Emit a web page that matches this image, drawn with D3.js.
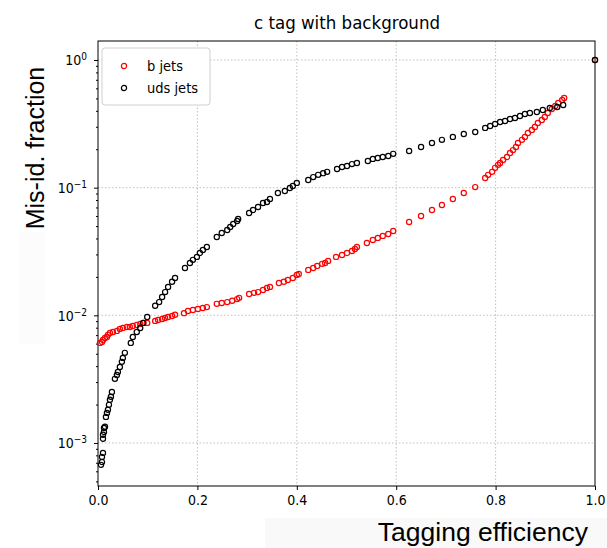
<!DOCTYPE html>
<html>
<head>
<meta charset="utf-8">
<script src="https://cdn.jsdelivr.net/npm/d3@7"></script>
<style>
  body { margin: 0; background: #fff; }
  .tick text { font-family: "DejaVu Sans Condensed", "DejaVu Sans", sans-serif; font-size: 14px; fill: #000; }
  .grid line { stroke: #b0b0b0; stroke-dasharray: 1.5,2; stroke-width: 0.8; }
</style>
</head>
<body>
<div id="chart"></div>
<script>
// efficiency / mis-id fraction
const bEff = [0.004,0.008,0.010,0.014,0.018,0.020,0.024,0.030,0.038,0.044,0.050,0.058,0.064,0.070,0.078,0.085,0.091,0.099,
  0.115,0.121,0.129,0.135,0.141,0.149,0.155,0.173,0.181,0.191,0.201,0.211,0.219,0.239,0.249,0.260,0.270,0.280,0.284,
  0.304,0.314,0.322,0.332,0.340,0.346,0.364,0.374,0.382,0.392,0.400,0.404,0.423,0.433,0.441,0.451,0.457,0.463,
  0.479,0.491,0.501,0.511,0.517,0.521,0.541,0.553,0.563,0.573,0.584,0.594,0.626,0.650,0.672,0.692,0.714,0.736,0.759,
  0.779,0.785,0.793,0.799,0.805,0.809,0.815,0.823,0.829,0.835,0.841,0.845,0.853,0.859,0.865,0.873,0.879,0.885,0.893,
  0.899,0.905,0.913,0.920,0.926,0.934,0.938,1.0];
const bMisId = [6.08e-3,6.19e-3,6.42e-3,6.65e-3,6.77e-3,7.03e-3,7.28e-3,7.41e-3,7.55e-3,7.83e-3,7.97e-3,8.11e-3,8.11e-3,8.26e-3,8.41e-3,8.57e-3,8.72e-3,8.72e-3,
  9.04e-3,9.20e-3,9.37e-3,9.54e-3,9.71e-3,9.89e-3,1.01e-2,1.04e-2,1.08e-2,1.10e-2,1.12e-2,1.14e-2,1.16e-2,1.23e-2,1.25e-2,1.27e-2,1.30e-2,1.34e-2,1.37e-2,
  1.47e-2,1.50e-2,1.52e-2,1.58e-2,1.64e-2,1.67e-2,1.79e-2,1.83e-2,1.89e-2,1.96e-2,2.07e-2,2.11e-2,2.27e-2,2.35e-2,2.44e-2,2.53e-2,2.57e-2,2.67e-2,
  2.87e-2,2.97e-2,3.08e-2,3.19e-2,3.31e-2,3.43e-2,3.69e-2,3.89e-2,4.04e-2,4.19e-2,4.34e-2,4.58e-2,5.38e-2,6.00e-2,6.69e-2,7.32e-2,8.16e-2,9.08e-2,0.101,
  0.119,0.126,0.133,0.143,0.151,0.156,0.165,0.174,0.187,0.197,0.208,0.224,0.237,0.250,0.268,0.283,0.299,0.321,0.339,
  0.358,0.385,0.413,0.436,0.461,0.486,0.504,1.0];

const udsEff = [0.006,0.008,0.008,0.010,0.010,0.010,0.012,0.012,0.014,0.016,0.018,0.020,0.022,0.024,0.026,0.028,
  0.034,0.038,0.040,0.044,0.048,0.050,0.054,0.066,0.070,0.078,0.085,0.091,0.099,0.115,0.123,0.129,0.135,0.141,0.149,0.155,
  0.175,0.185,0.191,0.199,0.205,0.211,0.219,0.239,0.249,0.260,0.266,0.272,0.280,0.282,0.304,0.312,0.322,0.332,0.340,0.346,
  0.362,0.376,0.386,0.392,0.400,0.423,0.433,0.443,0.453,0.461,0.481,0.491,0.501,0.511,0.521,0.543,0.553,0.563,0.573,0.584,0.594,
  0.626,0.650,0.672,0.692,0.714,0.736,0.759,0.779,0.789,0.799,0.809,0.819,0.829,0.839,0.849,0.859,0.869,0.883,0.895,0.909,0.924,0.936,1.0];
const udsMisId = [6.74e-4,7.11e-4,7.78e-4,8.36e-4,1.08e-3,1.16e-3,1.22e-3,1.31e-3,1.34e-3,1.60e-3,1.72e-3,1.82e-3,1.99e-3,2.18e-3,2.30e-3,2.51e-3,
  3.18e-3,3.41e-3,3.60e-3,3.94e-3,4.32e-3,4.64e-3,5.08e-3,6.08e-3,6.77e-3,7.41e-3,7.96e-3,8.72e-3,9.71e-3,1.19e-2,1.27e-2,1.39e-2,1.52e-2,1.67e-2,1.83e-2,1.96e-2,
  2.35e-2,2.57e-2,2.72e-2,2.87e-2,3.08e-2,3.25e-2,3.43e-2,4.11e-2,4.42e-2,4.66e-2,4.92e-2,5.20e-2,5.48e-2,5.69e-2,6.34e-2,6.69e-2,7.06e-2,7.59e-2,7.73e-2,8.16e-2,
  9.08e-2,9.42e-2,9.95e-2,0.103,0.109,0.115,0.121,0.126,0.130,0.133,0.140,0.145,0.148,0.153,0.156,0.162,0.168,0.171,0.174,0.177,0.184,
  0.194,0.208,0.224,0.237,0.250,0.263,0.273,0.294,0.304,0.315,0.327,0.333,0.345,0.351,0.364,0.378,0.385,0.392,0.406,0.421,0.429,0.444,1.0];

const xTicks = [0, 0.2, 0.4, 0.6, 0.8, 1.0];
const yTicks = [1e-3, 1e-2, 1e-1, 1];
const seriesNames = ['b jets', 'uds jets'];
const seriesColors = ['#ff0000', '#000000'];

const W = 607, H = 548;
const margin = { top: 41, right: 10, bottom: 62, left: 98 };
const innerW = 497, innerH = 445;

const svg = d3.select('#chart').append('svg')
  .attr('width', W).attr('height', H)
  .style('font-family', '"DejaVu Sans Condensed", "DejaVu Sans", sans-serif');

// faint pasted-label backgrounds
svg.append('rect').attr('x', 265).attr('y', 518).attr('width', 342).attr('height', 30).attr('fill', '#f9f9f9');
svg.append('rect').attr('x', 18).attr('y', 232).attr('width', 28).attr('height', 112).attr('fill', '#fcfcfc');

const chart = svg.append('g').attr('transform', `translate(${margin.left},${margin.top})`);

const x = d3.scaleLinear().domain([0, 1]).range([0, innerW]);
const y = d3.scaleLog().domain([Math.pow(10, -3.337), Math.pow(10, 0.149)]).range([innerH, 0]);

// grid
chart.append('g').attr('class', 'grid')
  .selectAll('line.gx').data(xTicks.slice(1, -1)).join('line')
  .attr('x1', d => x(d)).attr('x2', d => x(d)).attr('y1', 0).attr('y2', innerH);
chart.append('g').attr('class', 'grid')
  .selectAll('line.gy').data(yTicks).join('line')
  .attr('x1', 0).attr('x2', innerW).attr('y1', d => y(d)).attr('y2', d => y(d));

// axes
const xAxis = d3.axisBottom(x).tickValues(xTicks).tickFormat(d3.format('.1f')).tickSize(4).tickPadding(5);
chart.append('g').attr('transform', `translate(0,${innerH})`).call(xAxis)
  .call(g => g.select('.domain').remove());

const minor = [];
for (let e = -4; e <= 0; e++) for (let m = 2; m <= 9; m++) {
  const v = m * Math.pow(10, e);
  if (v >= y.domain()[0] && v <= y.domain()[1]) minor.push(v);
}
chart.append('g').call(d3.axisLeft(y).tickValues(minor).tickSize(2).tickFormat(''))
  .call(g => g.select('.domain').remove());

const yAxis = d3.axisLeft(y).tickValues(yTicks).tickSize(4).tickPadding(4).tickFormat('');
const yg = chart.append('g').call(yAxis).call(g => g.select('.domain').remove());
yg.selectAll('.tick').append('text')
  .attr('x', -11).attr('dy', '0.35em').attr('text-anchor', 'end')
  .attr('fill', '#000')
  .each(function(d) {
    const t = d3.select(this);
    const p = Math.round(Math.log10(d));
    t.append('tspan').text('10');
    t.append('tspan').attr('dy', '-0.5em').attr('font-size', '10px').text(p === 0 ? '0' : '\u2212' + Math.abs(p));
  });

// frame
chart.append('rect').attr('width', innerW).attr('height', innerH)
  .attr('fill', 'none').attr('stroke', '#000').attr('stroke-width', 1);

// points
const series = [
  { name: seriesNames[0], color: seriesColors[0], xs: bEff, ys: bMisId },
  { name: seriesNames[1], color: seriesColors[1], xs: udsEff, ys: udsMisId }
];
series.forEach(s => {
  chart.append('g').selectAll('circle')
    .data(s.xs.map((v, i) => ({ x: v, y: s.ys[i] })))
    .join('circle')
    .attr('cx', d => x(d.x)).attr('cy', d => y(d.y)).attr('r', 2.6)
    .attr('fill', 'none').attr('stroke', s.color).attr('stroke-width', 1.2);
});

// legend
const legend = chart.append('g').attr('transform', 'translate(4,7)');
legend.append('rect').attr('width', 108).attr('height', 57).attr('rx', 3)
  .attr('fill', '#fff').attr('stroke', '#d0d0d0');
series.forEach((s, i) => {
  const row = legend.append('g').attr('transform', `translate(0,${18 + i * 22})`);
  row.append('circle').attr('cx', 22).attr('cy', 0).attr('r', 2.6)
    .attr('fill', 'none').attr('stroke', s.color).attr('stroke-width', 1.2);
  row.append('text').attr('x', 45).attr('dy', '0.35em').attr('font-size', '14.5px').text(s.name);
});

// title and labels
svg.append('text').attr('x', 347).attr('y', 29).attr('text-anchor', 'middle')
  .attr('font-size', '18.5px').text('c tag with background');

svg.append('text').attr('transform', 'translate(44,148) rotate(-90)').attr('text-anchor', 'middle')
  .style('font-family', '"Liberation Sans", Arial, sans-serif').attr('font-size', '25px')
  .text('Mis-id. fraction');

svg.append('text').attr('x', 588).attr('y', 541).attr('text-anchor', 'end')
  .style('font-family', '"Liberation Sans", Arial, sans-serif').attr('font-size', '26.5px')
  .text('Tagging efficiency');
</script>
</body>
</html>
